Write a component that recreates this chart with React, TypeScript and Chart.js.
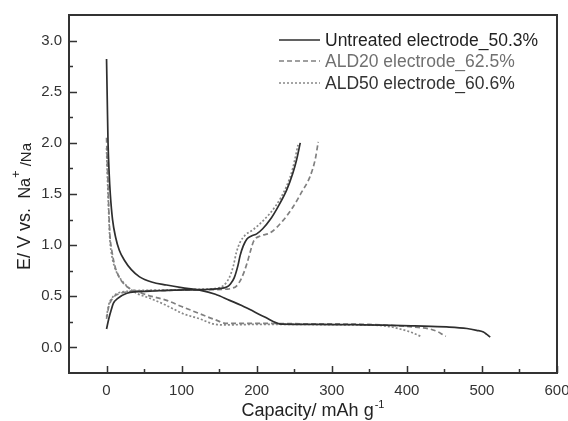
import React, { useEffect, useRef } from "react";
import { Chart, registerables } from "chart.js";
Chart.register(...registerables);

const FONT = "'Liberation Sans', Arial, sans-serif";

const xTicks = [0, 100, 200, 300, 400, 500, 600];
const yTicks = [0, 0.5, 1.0, 1.5, 2.0, 2.5, 3.0];
const xMinor = [50, 150, 250, 350, 450, 550];
const yMinor = [0.25, 0.75, 1.25, 1.75, 2.25, 2.75];

const seriesNames = ["Untreated electrode_50.3%", "ALD20 electrode_62.5%", "ALD50 electrode_60.6%"];

// Untreated electrode (solid)
const untreatedDisX = [0, 1, 2, 3.5, 5, 8, 12, 17, 24, 33, 44, 60, 80, 100, 124, 145, 164, 180, 191, 210, 233, 280, 330, 369, 410, 453, 480, 493, 502, 506, 511];
const untreatedDisY = [2.82, 2.4, 2.0, 1.7, 1.5, 1.25, 1.08, 0.95, 0.85, 0.76, 0.69, 0.64, 0.61, 0.585, 0.56, 0.52, 0.46, 0.41, 0.37, 0.3, 0.228, 0.226, 0.222, 0.218, 0.21, 0.2, 0.185, 0.167, 0.15, 0.13, 0.1];
const untreatedChgX = [0, 3, 6, 9, 15, 27, 40, 58, 90, 124, 150, 160, 165, 170, 175, 178, 182, 187, 193, 200, 208, 218, 228, 240, 248, 253, 258];
const untreatedChgY = [0.18, 0.28, 0.36, 0.43, 0.48, 0.53, 0.545, 0.55, 0.56, 0.565, 0.575, 0.59, 0.62, 0.68, 0.8, 0.9, 0.99, 1.06, 1.09, 1.11, 1.16, 1.25, 1.37, 1.54, 1.7, 1.83, 2.0];

// ALD20 electrode (dashed)
const ald20DisX = [0, 1, 2, 3, 4.5, 7, 11, 16, 22, 30, 40, 55, 80, 100, 124, 145, 160, 200, 250, 300, 350, 390, 415, 431, 442, 449, 452];
const ald20DisY = [2.05, 1.8, 1.6, 1.35, 1.1, 0.95, 0.8, 0.7, 0.63, 0.58, 0.55, 0.51, 0.46, 0.4, 0.33, 0.27, 0.235, 0.235, 0.232, 0.23, 0.225, 0.21, 0.195, 0.18, 0.15, 0.12, 0.11];
const ald20ChgX = [0, 3, 8, 15, 30, 60, 100, 140, 160, 168, 173, 180, 187, 192, 196, 205, 218, 235, 249, 260, 271, 278, 282];
const ald20ChgY = [0.28, 0.4, 0.48, 0.52, 0.545, 0.555, 0.56, 0.565, 0.57, 0.58, 0.6, 0.68, 0.82, 0.95, 1.04, 1.09, 1.12, 1.24, 1.38, 1.52, 1.67, 1.84, 2.01];

// ALD50 electrode (dotted)
const ald50DisX = [0, 1, 2, 3, 4.5, 7, 11, 16, 22, 30, 40, 58, 80, 102, 124, 142, 155, 200, 250, 300, 340, 364, 380, 391, 405, 418];
const ald50DisY = [1.95, 1.7, 1.5, 1.3, 1.05, 0.9, 0.78, 0.7, 0.64, 0.58, 0.53, 0.48, 0.41, 0.33, 0.28, 0.23, 0.22, 0.225, 0.225, 0.222, 0.22, 0.215, 0.2, 0.18, 0.15, 0.11];
const ald50ChgX = [0, 3, 8, 15, 30, 60, 100, 130, 148, 155, 160, 164, 169, 173, 178, 185, 195, 210, 225, 240, 248, 255];
const ald50ChgY = [0.3, 0.42, 0.49, 0.53, 0.55, 0.56, 0.565, 0.57, 0.58, 0.6, 0.64, 0.69, 0.8, 0.93, 1.03, 1.1, 1.15, 1.25, 1.38, 1.58, 1.75, 1.98];

const styles = [
  { color: "#2e2e2e", dash: [] as number[], width: 1.7, text: "#222222" },
  { color: "#808080", dash: [5, 3], width: 1.7, text: "#707070" },
  { color: "#888888", dash: [2, 2], width: 1.7, text: "#333333" },
];

const pts = (xs: number[], ys: number[]) => xs.map((x, i) => ({ x, y: ys[i] }));

const curves = [
  { s: 0, xs: untreatedDisX, ys: untreatedDisY },
  { s: 0, xs: untreatedChgX, ys: untreatedChgY },
  { s: 1, xs: ald20DisX, ys: ald20DisY },
  { s: 1, xs: ald20ChgX, ys: ald20ChgY },
  { s: 2, xs: ald50DisX, ys: ald50DisY },
  { s: 2, xs: ald50ChgX, ys: ald50ChgY },
];

const framePlugin = {
  id: "frame",
  afterDraw(chart: any) {
    const { ctx, chartArea: a, scales } = chart;
    const xs = scales.x;
    const ys = scales.y;
    ctx.save();
    ctx.strokeStyle = "#333";
    ctx.lineWidth = 2;
    ctx.setLineDash([]);
    ctx.strokeRect(a.left, a.top, a.right - a.left, a.bottom - a.top);
    ctx.lineWidth = 1.5;
    ctx.beginPath();
    xTicks.forEach((v) => {
      const p = Math.round(xs.getPixelForValue(v)) + 0.5;
      ctx.moveTo(p, a.bottom);
      ctx.lineTo(p, a.bottom - 7);
    });
    xMinor.forEach((v) => {
      const p = Math.round(xs.getPixelForValue(v)) + 0.5;
      ctx.moveTo(p, a.bottom);
      ctx.lineTo(p, a.bottom - 4);
    });
    yTicks.forEach((v) => {
      const p = Math.round(ys.getPixelForValue(v)) + 0.5;
      ctx.moveTo(a.left, p);
      ctx.lineTo(a.left + 8, p);
    });
    yMinor.forEach((v) => {
      const p = Math.round(ys.getPixelForValue(v)) + 0.5;
      ctx.moveTo(a.left, p);
      ctx.lineTo(a.left + 4, p);
    });
    ctx.stroke();

    // Legend
    const legendY = [40, 61, 83];
    seriesNames.forEach((name, i) => {
      const st = styles[i];
      ctx.strokeStyle = st.color;
      ctx.lineWidth = st.width;
      ctx.setLineDash(st.dash);
      ctx.beginPath();
      ctx.moveTo(279, legendY[i]);
      ctx.lineTo(320, legendY[i]);
      ctx.stroke();
      ctx.setLineDash([]);
      ctx.fillStyle = st.text;
      ctx.font = `17.5px ${FONT}`;
      ctx.textBaseline = "middle";
      ctx.textAlign = "left";
      ctx.fillText(name, 325, legendY[i] + 1);
    });

    // X title
    ctx.fillStyle = "#222";
    ctx.textBaseline = "alphabetic";
    ctx.font = `18px ${FONT}`;
    const main = "Capacity/ mAh g";
    const wMain = ctx.measureText(main).width;
    ctx.font = `11px ${FONT}`;
    const sup = "-1";
    const wSup = ctx.measureText(sup).width;
    const cx = (a.left + a.right) / 2;
    const x0 = cx - (wMain + wSup + 1) / 2;
    ctx.font = `18px ${FONT}`;
    ctx.fillText(main, x0, 416);
    ctx.font = `11px ${FONT}`;
    ctx.fillText(sup, x0 + wMain + 1, 408);

    // Y title
    ctx.translate(30, 270);
    ctx.rotate(-Math.PI / 2);
    const parts = [
      { t: "E/ V vs. ", f: 18, dy: 0 },
      { t: " Na", f: 16, dy: 0 },
      { t: "+", f: 13, dy: -10 },
      { t: " /Na", f: 15, dy: 1 },
    ];
    let px = 0;
    parts.forEach((p) => {
      ctx.font = `${p.f}px ${FONT}`;
      ctx.fillText(p.t, px, p.dy);
      px += ctx.measureText(p.t).width;
    });
    ctx.restore();
  },
};

export default function App() {
  const ref = useRef<HTMLCanvasElement>(null);
  useEffect(() => {
    if (!ref.current) return;
    const chart = new Chart(ref.current, {
      type: "scatter",
      data: {
        datasets: curves.map((c) => ({
          label: seriesNames[c.s],
          data: pts(c.xs, c.ys),
          showLine: true,
          borderColor: styles[c.s].color,
          borderWidth: styles[c.s].width,
          borderDash: styles[c.s].dash,
          pointRadius: 0,
          cubicInterpolationMode: "monotone" as const,
          fill: false,
        })),
      },
      options: {
        animation: false,
        responsive: false,
        devicePixelRatio: 1,
        layout: { padding: { top: 15, right: 11, left: 0, bottom: 0 } },
        plugins: { legend: { display: false }, tooltip: { enabled: false } },
        scales: {
          x: {
            type: "linear",
            min: -50,
            max: 600,
            grid: { display: false, drawTicks: false },
            border: { display: false },
            afterBuildTicks: (s: any) => {
              s.ticks = xTicks.map((v) => ({ value: v }));
            },
            afterFit: (s: any) => {
              s.height = 48;
              s.paddingLeft = 0;
              s.paddingRight = 0;
            },
            ticks: {
              padding: 9,
              maxRotation: 0,
              autoSkip: false,
              color: "#333",
              font: { family: FONT, size: 15 },
              callback: (v: any) => String(v),
            },
          },
          y: {
            type: "linear",
            min: -0.25,
            max: 3.25,
            grid: { display: false, drawTicks: false },
            border: { display: false },
            afterBuildTicks: (s: any) => {
              s.ticks = yTicks.map((v) => ({ value: v }));
            },
            afterFit: (s: any) => {
              s.width = 69;
              s.paddingTop = 0;
              s.paddingBottom = 0;
            },
            ticks: {
              padding: 7,
              autoSkip: false,
              color: "#333",
              font: { family: FONT, size: 15 },
              callback: (v: any) => Number(v).toFixed(1),
            },
          },
        },
      },
      plugins: [framePlugin],
    } as any);
    return () => chart.destroy();
  }, []);
  return (
    <div style={{ position: "fixed", left: 0, top: 0, width: 568, height: 421, background: "#fff" }}>
      <canvas ref={ref} width={568} height={421} style={{ display: "block", width: 568, height: 421 }} />
    </div>
  );
}
